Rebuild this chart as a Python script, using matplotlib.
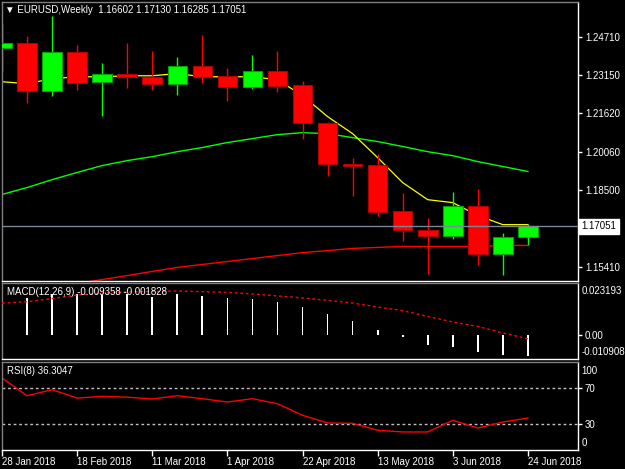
import matplotlib.pyplot as plt
import matplotlib.transforms as mtransforms
import numpy as np

plt.rcParams['font.family'] = ['Liberation Sans', 'DejaVu Sans']
plt.rcParams['font.size'] = 7

# weekly EURUSD candles, 28 Jan 2018 .. 24 Jun 2018
date_pos = [0, 3, 6, 9, 12, 15, 18, 21]
date_labels = ['28 Jan 2018', '18 Feb 2018', '11 Mar 2018', '1 Apr 2018',
               '22 Apr 2018', '13 May 2018', '3 Jun 2018', '24 Jun 2018']

o = [1.2427, 1.2447, 1.2253, 1.2410, 1.2289, 1.2322, 1.2309, 1.2281, 1.2354, 1.2313, 1.2269,
     1.2334, 1.2277, 1.2124, 1.1958, 1.1954, 1.1768, 1.1691, 1.1667, 1.1788, 1.1594, 1.16602]
h = [1.2524, 1.2475, 1.2556, 1.2439, 1.2366, 1.2447, 1.2414, 1.2390, 1.2479, 1.2346, 1.2398,
     1.2414, 1.2293, 1.2128, 1.1982, 1.1998, 1.1837, 1.1736, 1.1845, 1.1857, 1.1679, 1.17130]
l = [1.2334, 1.2204, 1.2233, 1.2257, 1.2152, 1.2265, 1.2257, 1.2237, 1.2285, 1.2212, 1.2261,
     1.2249, 1.2059, 1.1909, 1.1825, 1.1748, 1.1643, 1.1513, 1.1655, 1.1546, 1.1509, 1.16285]
c = [1.2447, 1.2253, 1.2410, 1.2285, 1.2322, 1.2309, 1.2281, 1.2354, 1.2309, 1.2269, 1.2334,
     1.2273, 1.2124, 1.1958, 1.1950, 1.1764, 1.1691, 1.1667, 1.1788, 1.1594, 1.1663, 1.17051]

ma_fast = [1.2289, 1.2281, 1.2301, 1.2309, 1.2309, 1.2313, 1.2313, 1.2322, 1.2309, 1.2309, 1.2309,
           1.2297, 1.2233, 1.2148, 1.2079, 1.1982, 1.1881, 1.1812, 1.1800, 1.1748, 1.1711, 1.1711]
ma_mid = [1.1833, 1.1861, 1.1893, 1.1922, 1.1950, 1.1970, 1.1986, 1.2006, 1.2023, 1.2043, 1.2059,
          1.2075, 1.2083, 1.2079, 1.2063, 1.2047, 1.2027, 1.2006, 1.1990, 1.1966, 1.1946, 1.1926]
ma_slow = [1.1429, 1.1445, 1.1457, 1.1473, 1.1489, 1.1505, 1.1522, 1.1538, 1.1550, 1.1562, 1.1574,
           1.1586, 1.1598, 1.1606, 1.1615, 1.1619, 1.1623, 1.1623, 1.1623, 1.1623, 1.1627, 1.1627]

macd = [0.0160, 0.0166, 0.0181, 0.0181, 0.0178, 0.0181, 0.0170, 0.0181, 0.0175, 0.0163, 0.0158,
        0.0145, 0.0123, 0.0091, 0.0063, 0.0022, -0.0012, -0.0045, -0.0055, -0.0079, -0.0090, -0.009358]
signal = [0.0142, 0.0148, 0.0162, 0.0178, 0.0187, 0.0192, 0.0194, 0.0196, 0.0193, 0.0190, 0.0183,
          0.0174, 0.0165, 0.0154, 0.0142, 0.0124, 0.0108, 0.0082, 0.0057, 0.0037, 0.0008, -0.001828]
rsi = [81.8, 61.7, 68.5, 59.0, 61.0, 60.0, 58.0, 61.7, 58.3, 54.5, 58.3,
       52.6, 39.4, 30.7, 30.3, 22.4, 20.5, 20.5, 33.7, 25.0, 31.8, 36.3047]

price_ticks = [1.24710, 1.23150, 1.21620, 1.20060, 1.18500, 1.15410]
last = 1.17051

x = np.arange(len(o))
o, h, l, c = map(np.array, (o, h, l, c))
up = c >= o

W, H = 625, 469
fig = plt.figure(figsize=(W / 100, H / 100), dpi=100, facecolor='black')


def panel(top, bottom):
    ax = fig.add_axes([2 / W, 1 - bottom / H, 576 / W, (bottom - top) / H])
    ax.set_facecolor('black')
    ax.set_xlim(0, 23)
    for s in ('right', 'bottom'):
        ax.spines[s].set_color('white')
    for s in ('left', 'top'):
        ax.spines[s].set_color('#808080')
    for s in ax.spines.values():
        s.set_linewidth(1)
    ax.yaxis.tick_right()
    ax.tick_params(axis='y', colors='white', length=3, width=1, pad=2, labelsize=7)
    ax.tick_params(axis='x', colors='white', length=0)
    ax.set_xticks([])
    return ax


# main price panel
ax = panel(2, 281)
ax.set_ylim(1.14832, 1.26113)
ax.plot(x, ma_slow, color='#FF0000', lw=1, zorder=1)
ax.plot(x, ma_mid, color='#00FF00', lw=1, zorder=1)
ax.plot(x, ma_fast, color='#FFFF00', lw=0.9, zorder=1)
wick_col = np.where(up, '#00FF00', '#FF0000')
ax.vlines(x, l, h, colors=wick_col, lw=1, zorder=2)
body_lo = np.minimum(o, c)
body_h = np.maximum(np.abs(c - o), 0.0002)
ax.bar(x, body_h, bottom=body_lo, width=0.78, color=np.where(up, '#00FF00', '#FF0000'),
       edgecolor=np.where(up, '#00A000', '#B00000'), lw=0.8, zorder=3)
ax.axhline(last, color='#778899', lw=1, zorder=4)
ax.set_yticks(price_ticks)
ax.set_yticklabels(['%.5f' % v for v in price_ticks])
trans = mtransforms.blended_transform_factory(ax.transAxes, ax.transData)
ax.text(1.006, last, '1.17051', transform=trans, va='center', ha='left', color='black',
        fontsize=7, bbox=dict(boxstyle='square,pad=0.25', fc='white', ec='white'))

fig.text(5 / W, 1 - 10 / H, '\u25bc EURUSD,Weekly  1.16602 1.17130 1.16285 1.17051',
         color='white', fontsize=7, va='center', ha='left')

# MACD panel
am = panel(283, 359)
am.set_ylim(-0.010908, 0.023193)
am.bar(x, macd, width=0.07, color='white', zorder=2)
am.plot(x, signal, color='#FF0000', lw=1, ls=(0, (2, 2)), zorder=3)
am.set_yticks([0.0])
am.set_yticklabels(['0.00'])
am.text(1.006, 0.96, '0.023193', transform=am.transAxes, color='white', fontsize=7,
        va='top', ha='left')
am.text(1.006, 0.02, '-0.010908', transform=am.transAxes, color='white', fontsize=7,
        va='bottom', ha='left')
am.text(5 / 576, 0.88, 'MACD(12,26,9) -0.009358 -0.001828', transform=am.transAxes,
        color='white', fontsize=7, va='center', ha='left', zorder=5)

# RSI panel
ar = panel(362, 450)
ar.set_ylim(0, 100)
ar.axhline(70, color='#C0C0C0', lw=1, ls=(0, (2, 2)), zorder=1)
ar.axhline(30, color='#C0C0C0', lw=1, ls=(0, (2, 2)), zorder=1)
ar.plot(x, rsi, color='#FF0000', lw=1, zorder=2)
ar.set_yticks([70, 30])
ar.set_yticklabels(['70', '30'])
ar.text(1.006, 0.96, '100', transform=ar.transAxes, color='white', fontsize=7,
        va='top', ha='left')
ar.text(1.006, 0.02, '0', transform=ar.transAxes, color='white', fontsize=7,
        va='bottom', ha='left')
ar.text(5 / 576, 0.9, 'RSI(8) 36.3047', transform=ar.transAxes, color='white',
        fontsize=7, va='center', ha='left')
ar.set_xticks(date_pos)
ar.set_xticklabels(date_labels)
ar.tick_params(axis='x', colors='white', length=4, width=1, pad=1, labelsize=7)
for lbl in ar.get_xticklabels():
    lbl.set_ha('left')

fig.savefig('out.png', dpi=100, facecolor='black')
